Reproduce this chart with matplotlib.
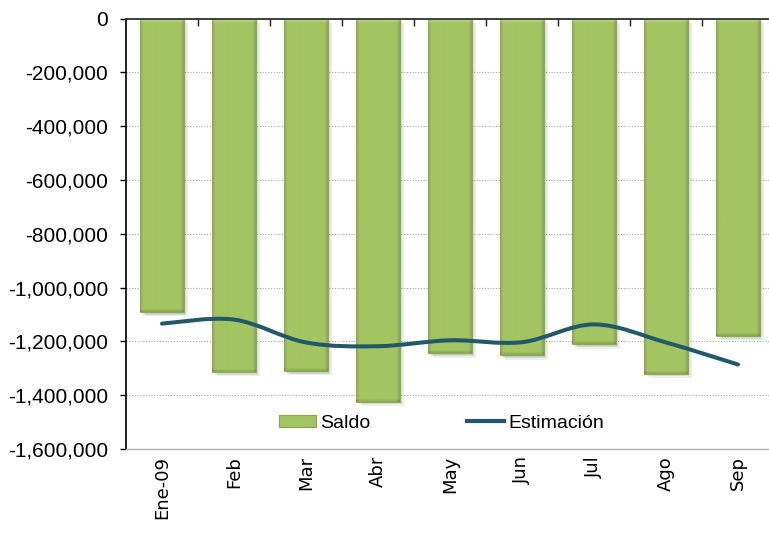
import numpy as np
import matplotlib.pyplot as plt
from matplotlib.path import Path
from matplotlib.patches import PathPatch
from matplotlib.lines import Line2D
from matplotlib.patches import Patch
import matplotlib.patheffects as pe
from matplotlib.ticker import FuncFormatter

meses = ['Ene-09', 'Feb', 'Mar', 'Abr', 'May', 'Jun', 'Jul', 'Ago', 'Sep']
saldo = [-1092000, -1314000, -1311000, -1424000, -1245000, -1252000,
         -1211000, -1320000, -1180000]
estimacion = [-1134000, -1119000, -1204000, -1218000, -1196000, -1203000,
              -1137000, -1204000, -1286000]
y_ticks = [0, -200000, -400000, -600000, -800000, -1000000, -1200000,
           -1400000, -1600000]

verde = '#a3c562'
borde = '#86a648'
azul = '#215968'


def smooth_path(xs, ys, t=1 / 6.):
    # excel-like smoothed line: cubic bezier through the points
    pts = np.column_stack([xs, ys]).astype(float)
    n = len(pts)
    verts = [pts[0]]
    codes = [Path.MOVETO]
    for i in range(n - 1):
        p0 = pts[i - 1] if i > 0 else pts[i]
        p1 = pts[i]
        p2 = pts[i + 1]
        p3 = pts[i + 2] if i + 2 < n else pts[i + 1]
        c1 = p1 + (p2 - p0) * t
        c2 = p2 - (p3 - p1) * t
        verts += [c1, c2, p2]
        codes += [Path.CURVE4] * 3
    return Path(verts, codes)


def bevel_img(w, h):
    # simple bevel look: darker sides/bottom, light top band
    base = np.array([163, 197, 98]) / 255.
    light = np.array([214, 234, 160]) / 255.
    xx = np.arange(w) + 0.5
    yy = np.arange(h) + 0.5
    dx = np.minimum(xx, w - xx)
    side = 1 - 0.16 * np.clip(1 - dx / 3.5, 0, 1)
    bot = 1 - 0.16 * np.clip(1 - (h - yy) / 3.5, 0, 1)
    top = np.clip(1 - yy / 5.0, 0, 1) * 0.75
    img = np.ones((h, w, 3)) * base
    img = img * (1 - top[:, None, None]) + light * top[:, None, None]
    img = img * side[None, :, None] * bot[:, None, None]
    return np.clip(img, 0, 1)


fig = plt.figure(figsize=(7.69, 5.34), dpi=100)
ax_h = 430.5
ax = fig.add_axes([126 / 769, 1 - 449 / 534, 648 / 769, ax_h / 534])

x = np.arange(len(meses))
ancho = 0.6
barras = ax.bar(x, saldo, width=ancho, color=verde, edgecolor=borde,
                linewidth=0.6, zorder=3,
                path_effects=[pe.SimplePatchShadow(offset=(1, -1), alpha=0.12),
                              pe.SimplePatchShadow(offset=(2, -2), alpha=0.12),
                              pe.SimplePatchShadow(offset=(3, -3), alpha=0.08),
                              pe.Normal()])

ax.set_xlim(-0.5, len(meses) - 0.5)
ax.set_ylim(-1600000, 0)

for b in barras:
    w_px = int(round(ancho * 72))
    h_px = max(int(round(abs(b.get_height()) / 1600000 * ax_h)), 4)
    im = ax.imshow(bevel_img(w_px, h_px), aspect='auto', zorder=3.2,
                   extent=(b.get_x(), b.get_x() + b.get_width(),
                           b.get_y() + b.get_height(), b.get_y()),
                   origin='upper', interpolation='bilinear')
    im.set_clip_path(b)

linea = PathPatch(smooth_path(x, estimacion), fill=False, edgecolor=azul,
                  linewidth=2.9, capstyle='round', zorder=4)
ax.add_patch(linea)

ax.set_xlim(-0.5, len(meses) - 0.5)
ax.set_ylim(-1600000, 0)
ax.set_yticks(y_ticks)
ax.yaxis.set_major_formatter(FuncFormatter(lambda v, p: f'{int(v):,}'))
ax.tick_params(axis='y', direction='out', length=4, width=1, pad=9,
               labelsize=15, labelfontfamily='Liberation Sans')
ax.grid(axis='y', color='#a6a6a6', linestyle=(0, (1, 1.5)), linewidth=0.8,
        zorder=0)

ax.set_xticks(x)
ax.set_xticklabels(meses, rotation=90, fontsize=13)
ax.tick_params(axis='x', which='major', length=0, pad=5)
ax.set_xticks(x[:-1] + 0.5, minor=True)
ax.tick_params(axis='x', which='minor', bottom=False, top=True,
               direction='in', length=5, width=1, color='#222222')

ax.spines['right'].set_visible(False)
ax.spines['top'].set_color('#333333')
ax.spines['top'].set_linewidth(1.3)
ax.spines['top'].set_zorder(5)
ax.spines['left'].set_color('black')
ax.spines['left'].set_linewidth(1.2)
ax.spines['bottom'].set_color('#b3b3b3')
ax.spines['bottom'].set_linewidth(1.0)

handles = [Patch(facecolor=verde, edgecolor=borde, linewidth=0.8),
           Line2D([0], [0], color=azul, linewidth=3)]
ax.legend(handles, ['Saldo', 'Estimación'], loc='center',
          bbox_to_anchor=(0.487, 0.06), ncol=2, frameon=False,
          prop={'family': 'Liberation Sans', 'size': 14},
          handlelength=1.9, handleheight=0.6, handletextpad=0.2,
          columnspacing=5.0)

fig.savefig('out.png', dpi=100)
